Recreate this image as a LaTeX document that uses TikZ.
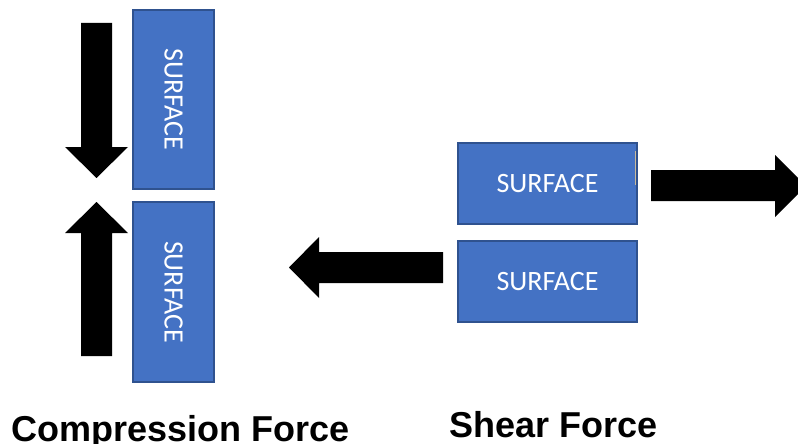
\documentclass[tikz,border=0pt]{standalone}
\usepackage{fontspec}
\setmainfont{Liberation Sans}
\newfontfamily\surffont{Carlito}
\definecolor{boxblue}{HTML}{4472C4}
\definecolor{boxedge}{HTML}{2F528F}
\definecolor{cursorline}{HTML}{C9B99B}
\begin{document}
\begin{tikzpicture}[x=1pt,y=-1pt,
  surfbox/.style={draw=boxedge,line width=1.5pt,fill=boxblue,inner sep=0pt,
    text=white,font=\surffont\fontsize{28}{30}\selectfont},
  blockarrow/.style={fill=black,draw=none},
  caption/.style={inner sep=0pt,anchor=base west,font=\bfseries\fontsize{36}{40}\selectfont}]
\useasboundingbox (0,0) rectangle (798,444);
\clip (0,0) rectangle (798,444);
\fill[white] (0,0) rectangle (798,444);
% compression boxes
\node[surfbox,minimum width=81pt,minimum height=179pt] (ctop) at (173.5,99.5) {};
\node[rotate=-90,text=white,font=\surffont\fontsize{28}{30}\selectfont,inner sep=0pt] (ctoplabel) at (ctop.center) {SURFACE};
\node[surfbox,minimum width=81pt,minimum height=180pt] (cbot) at (173.5,292) {};
\node[rotate=-90,text=white,font=\surffont\fontsize{28}{30}\selectfont,inner sep=0pt] (cbotlabel) at (cbot.center) {SURFACE};
% shear boxes
\node[surfbox,minimum width=179pt,minimum height=81pt] (stop) at (547.5,183.5) {SURFACE};
\node[surfbox,minimum width=179pt,minimum height=81pt] (sbot) at (547.5,281.5) {SURFACE};
\draw[cursorline,line width=1pt] (635,151) -- (635,185);
% block arrows
\path[blockarrow] (81,23) -- (112,23) -- (112,147) -- (128,147) -- (96.5,178) -- (65,147) -- (81,147) -- cycle;
\path[blockarrow] (96.5,202) -- (128,233) -- (112,233) -- (112,356) -- (81,356) -- (81,233) -- (65,233) -- cycle;
\path[blockarrow] (651,170) -- (775,170) -- (775,155) -- (806,186) -- (775,217) -- (775,201) -- (651,201) -- cycle;
\path[blockarrow] (289,267.5) -- (319,237) -- (319,252) -- (443,252) -- (443,283) -- (319,283) -- (319,298) -- cycle;
% captions
\node[caption] (capc) at (11,441) {Compression Force};
\node[caption] (caps) at (449,437) {Shear Force};
\end{tikzpicture}
\end{document}
